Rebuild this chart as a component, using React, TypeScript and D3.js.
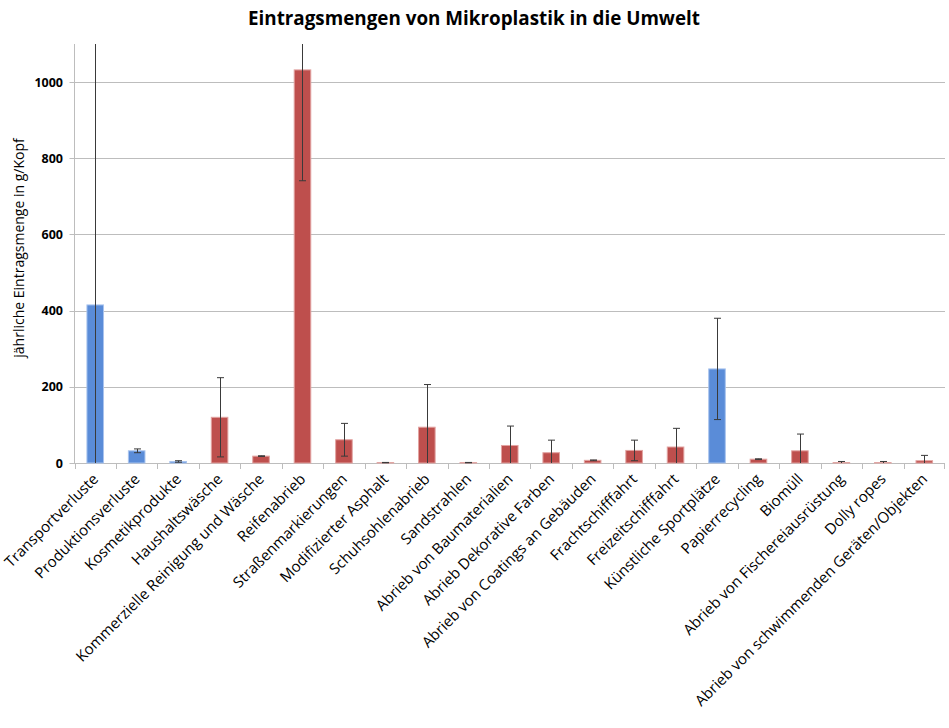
import React from "react";
import * as d3 from "d3";

const categories = [
  "Transportverluste",
  "Produktionsverluste",
  "Kosmetikprodukte",
  "Haushaltswäsche",
  "Kommerzielle Reinigung und Wäsche",
  "Reifenabrieb",
  "Straßenmarkierungen",
  "Modifizierter Asphalt",
  "Schuhsohlenabrieb",
  "Sandstrahlen",
  "Abrieb von Baumaterialien",
  "Abrieb Dekorative Farben",
  "Abrieb von Coatings an Gebäuden",
  "Frachtschifffahrt",
  "Freizeitschifffahrt",
  "Künstliche Sportplätze",
  "Papierrecycling",
  "Biomüll",
  "Abrieb von Fischereiausrüstung",
  "Dolly ropes",
  "Abrieb von schwimmenden Geräten/Objekten",
];
const values = [415, 32, 4, 120, 18, 1032, 61, 1, 94, 1, 46, 27, 7, 33, 42, 247, 10, 32, 1, 1, 6];
const errors = [800, 5, 2, 104, 1, 291, 43, 0.5, 112, 0.5, 51, 33, 1, 27, 49, 133, 1, 44, 3, 3, 14];
const groups = ["b", "b", "b", "r", "r", "r", "r", "r", "r", "r", "r", "r", "r", "r", "r", "b", "r", "r", "r", "r", "r"];
const yTicks = [0, 200, 400, 600, 800, 1000];

const title = "Eintragsmengen von Mikroplastik in die Umwelt";
const yTitle = "jährliche Eintragsmenge in g/Kopf";

const W = 949;
const H = 728;
const m = { left: 74.5, right: 945, top: 44, bottom: 463 };

export default function App() {
  const x = d3.scaleBand<string>().domain(categories).range([m.left, m.right]).paddingInner(0.6).paddingOuter(0.3);
  const xb = d3.scaleBand<string>().domain(categories).range([m.left, m.right]);
  const y = d3.scaleLinear().domain([0, 1100]).range([m.bottom, m.top]);
  const clipY = (v: number) => y(Math.max(0, Math.min(1100, v)));
  const fillFor = (g: string) => (g === "b" ? "#5A8CD8" : "#BE4F4D");
  const strokeFor = (g: string) => (g === "b" ? "#A9C4EE" : "#E2A3A1");
  const font = "'Open Sans', 'Liberation Sans', sans-serif";

  return (
    <svg width={W} height={H} style={{ display: "block", position: "absolute", left: 0, top: 0, background: "#fff" }}>
      <text x={474} y={25} textAnchor="middle" fontFamily={font} fontWeight="bold" fontSize={19} textLength={452} lengthAdjust="spacingAndGlyphs" fill="#000">
        {title}
      </text>
      {/* gridlines */}
      {yTicks.filter((t) => t > 0).map((t) => (
        <line key={t} x1={m.left - 5} x2={m.right} y1={Math.round(y(t)) + 0.5} y2={Math.round(y(t)) + 0.5} stroke="#BDBDBD" strokeWidth={1} />
      ))}
      {/* axes */}
      <line x1={m.left} x2={m.left} y1={m.top} y2={m.bottom} stroke="#BDBDBD" />
      <line x1={m.left - 5} x2={m.right} y1={m.bottom + 0.5} y2={m.bottom + 0.5} stroke="#BDBDBD" />
      {categories.map((c, i) => (
        <line key={"t" + i} x1={Math.round(xb(c)!) + 0.5} x2={Math.round(xb(c)!) + 0.5} y1={m.bottom} y2={m.bottom + 6} stroke="#BDBDBD" />
      ))}
      <line x1={m.right - 0.5} x2={m.right - 0.5} y1={m.bottom} y2={m.bottom + 6} stroke="#BDBDBD" />
      {yTicks.map((t) => (
        <text key={"y" + t} x={63} y={y(t) + 4.5} textAnchor="end" fontFamily={font} fontWeight="bold" fontSize={12.5} fill="#000">
          {t}
        </text>
      ))}
      <text transform={`translate(24,${248}) rotate(-90)`} textAnchor="middle" fontFamily={font} fontSize={14} fill="#000">
        {yTitle}
      </text>
      {/* bars */}
      {categories.map((c, i) => (
        <rect key={"b" + i} x={x(c)!} y={y(values[i])} width={x.bandwidth()} height={m.bottom - y(values[i])} fill={fillFor(groups[i])} stroke={strokeFor(groups[i])} strokeWidth={1} />
      ))}
      {/* error bars */}
      {categories.map((c, i) => {
        const cx = Math.round(x(c)! + x.bandwidth() / 2) + 0.5;
        const hi = values[i] + errors[i];
        const lo = values[i] - errors[i];
        return (
          <g key={"e" + i} stroke="#3A3A3A" strokeWidth={1}>
            <line x1={cx} x2={cx} y1={clipY(hi)} y2={clipY(lo)} />
            {hi <= 1100 && <line x1={cx - 3.5} x2={cx + 3.5} y1={y(hi)} y2={y(hi)} />}
            {lo >= 0 && <line x1={cx - 3.5} x2={cx + 3.5} y1={y(lo)} y2={y(lo)} />}
          </g>
        );
      })}
      {/* x labels */}
      {categories.map((c, i) => {
        const cx = xb(c)! + xb.bandwidth() / 2 + 4;
        return (
          <text key={"x" + i} transform={`translate(${cx},${480}) rotate(-45)`} textAnchor="end" fontFamily={font} fontSize={15} fill="#000">
            {c}
          </text>
        );
      })}
    </svg>
  );
}
